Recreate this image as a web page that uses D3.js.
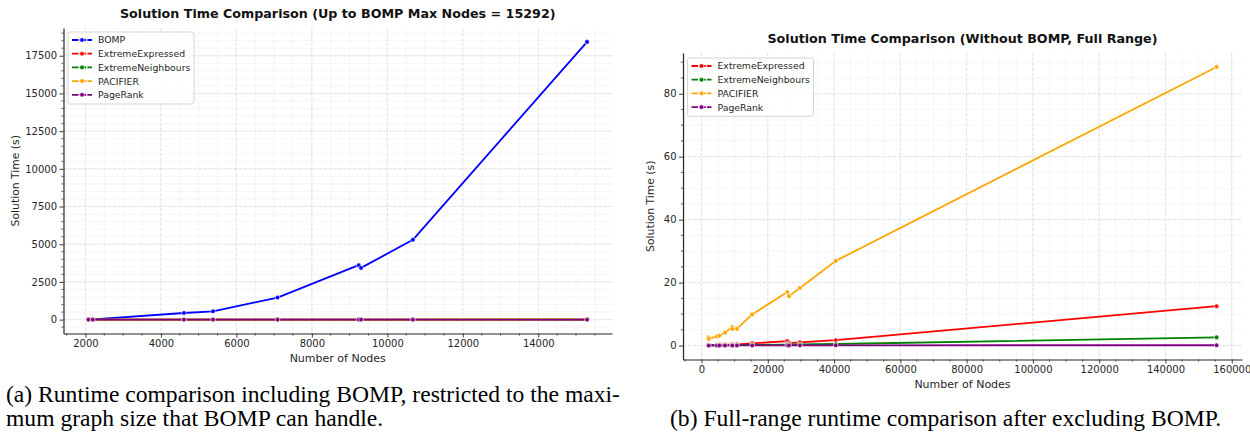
<!DOCTYPE html>
<html>
<head>
<meta charset="utf-8">
<script src="https://cdn.jsdelivr.net/npm/d3@7"></script>
<style>
  html, body { margin: 0; padding: 0; background: #fff; }
  svg { display: block; }
  .tick text { font-family: "DejaVu Sans", sans-serif; }
</style>
</head>
<body>
<svg id="fig" width="1250" height="435"></svg>
<script>
// Graph sizes (number of nodes) of the benchmark instances
const nodesBomp = [2080, 2194, 4611, 5381, 7090, 9241, 9303, 10676, 15292];
const nodesAll = [2080, 2194, 4611, 5381, 7090, 9241, 9303, 10676, 15292, 25900, 26400, 29700, 40500, 155422];

// Solution times in seconds
const bompTime = [8, 20, 439, 552, 1463, 3610, 3431, 5293, 18420];
const extremeExpressedTime = [0.2, 0.2, 0.2, 0.3, 0.3, 0.3, 0.4, 0.4, 0.7, 1.4, 0.8, 1.0, 1.7, 12.5];
const extremeNeighboursTime = [0.03, 0.03, 0.06, 0.07, 0.09, 0.12, 0.12, 0.14, 0.2, 0.3, 0.3, 0.35, 0.5, 2.6];
const pacifierTime = [2.6, 2.1, 2.9, 3.1, 4.1, 5.9, 5.3, 5.3, 9.9, 17.0, 15.7, 18.3, 26.9, 88.5];
const pageRankTime = [0.01, 0.01, 0.02, 0.02, 0.02, 0.03, 0.03, 0.03, 0.04, 0.06, 0.06, 0.07, 0.09, 0.1];

const methodNames = ["BOMP", "ExtremeExpressed", "ExtremeNeighbours", "PACIFIER", "PageRank"];
const methodColors = ["#0000ff", "#ff0000", "#008000", "#ffa500", "#800080"];

// Tick settings
const leftXTicks = [2000, 4000, 6000, 8000, 10000, 12000, 14000];
const leftYTicks = [0, 2500, 5000, 7500, 10000, 12500, 15000, 17500];
const rightXTicks = [0, 20000, 40000, 60000, 80000, 100000, 120000, 140000, 160000];
const rightYTicks = [0, 20, 40, 60, 80];

const titles = [
  "Solution Time Comparison (Up to BOMP Max Nodes = 15292)",
  "Solution Time Comparison (Without BOMP, Full Range)"
];
const captions = [
  ["(a) Runtime comparison including BOMP, restricted to the maxi-", "mum graph size that BOMP can handle."],
  ["(b) Full-range runtime comparison after excluding BOMP."]
];

const svg = d3.select("#fig");
const FONT = "'DejaVu Sans', sans-serif";
const TEXT = "#262626";

function pad(ext) {
  const r = ext[1] - ext[0];
  return [ext[0] - 0.05 * r, ext[1] + 0.05 * r];
}

function range(a, b, step) {
  const out = [];
  for (let v = Math.ceil(a / step) * step; v <= b + 1e-9; v += step) out.push(v);
  return out;
}

function drawPanel(opt) {
  const { box, series, xTicks, yTicks, xMinor, yMinor, title, legendBox } = opt;
  const g = svg.append("g");

  const allX = series.flatMap(s => s.x);
  const allY = series.flatMap(s => s.y);
  const x = d3.scaleLinear().domain(pad(d3.extent(allX))).range([box.left, box.right]);
  const y = d3.scaleLinear().domain(pad([Math.min(0, d3.min(allY)), d3.max(allY)])).range([box.bottom, box.top]);

  const xd = x.domain(), yd = y.domain();
  const xMinorVals = range(xd[0], xd[1], xMinor);
  const yMinorVals = range(yd[0], yd[1], yMinor);

  // minor grid
  const grid = g.append("g");
  grid.selectAll("line.mx").data(xMinorVals).join("line")
    .attr("x1", d => x(d)).attr("x2", d => x(d))
    .attr("y1", box.top).attr("y2", box.bottom)
    .attr("stroke", "#f0f0f0").attr("stroke-width", 0.6);
  grid.selectAll("line.my").data(yMinorVals).join("line")
    .attr("x1", box.left).attr("x2", box.right)
    .attr("y1", d => y(d)).attr("y2", d => y(d))
    .attr("stroke", "#f0f0f0").attr("stroke-width", 0.6);
  // major grid
  grid.selectAll("line.Mx").data(xTicks.filter(v => v >= xd[0] && v <= xd[1])).join("line")
    .attr("x1", d => x(d)).attr("x2", d => x(d))
    .attr("y1", box.top).attr("y2", box.bottom)
    .attr("stroke", "#dcdcdc").attr("stroke-width", 0.8).attr("stroke-dasharray", "3,2");
  grid.selectAll("line.My").data(yTicks.filter(v => v >= yd[0] && v <= yd[1])).join("line")
    .attr("x1", box.left).attr("x2", box.right)
    .attr("y1", d => y(d)).attr("y2", d => y(d))
    .attr("stroke", "#dcdcdc").attr("stroke-width", 0.8).attr("stroke-dasharray", "3,2");

  // series
  const line = d3.line().x(d => x(d[0])).y(d => y(d[1]));
  series.forEach(s => {
    const pts = s.x.map((v, i) => [v, s.y[i]]).sort((a, b) => a[0] - b[0]);
    const sg = g.append("g");
    sg.append("path").datum(pts).attr("d", line)
      .attr("fill", "none").attr("stroke", s.color).attr("stroke-width", 1.8)
      .attr("stroke-linejoin", "round").attr("stroke-linecap", "round");
    sg.selectAll("circle").data(pts).join("circle")
      .attr("cx", d => x(d[0])).attr("cy", d => y(d[1])).attr("r", 2.3)
      .attr("fill", s.color).attr("stroke", "#fff").attr("stroke-width", 0.6);
  });

  // axes
  const xAxis = g.append("g").attr("transform", `translate(0,${box.bottom})`)
    .call(d3.axisBottom(x).tickValues(xTicks.filter(v => v >= xd[0] && v <= xd[1]))
      .tickFormat(d3.format("d")).tickSizeInner(4).tickSizeOuter(0).tickPadding(2.5));
  const yAxis = g.append("g").attr("transform", `translate(${box.left},0)`)
    .call(d3.axisLeft(y).tickValues(yTicks.filter(v => v >= yd[0] && v <= yd[1]))
      .tickFormat(d3.format("d")).tickSizeInner(4).tickSizeOuter(0).tickPadding(2.5));
  [xAxis, yAxis].forEach(a => {
    a.select(".domain").attr("stroke", TEXT).attr("stroke-width", 1.2);
    a.selectAll(".tick line").attr("stroke", TEXT).attr("stroke-width", 0.9);
    a.selectAll(".tick text").attr("fill", TEXT).style("font-size", "10px").style("font-family", FONT);
  });
  // minor ticks
  g.append("g").selectAll("line").data(xMinorVals.filter(v => !xTicks.includes(v))).join("line")
    .attr("x1", d => x(d)).attr("x2", d => x(d))
    .attr("y1", box.bottom).attr("y2", box.bottom + 2.2)
    .attr("stroke", TEXT).attr("stroke-width", 0.7);
  g.append("g").selectAll("line").data(yMinorVals.filter(v => !yTicks.includes(v))).join("line")
    .attr("x1", box.left - 2.2).attr("x2", box.left)
    .attr("y1", d => y(d)).attr("y2", d => y(d))
    .attr("stroke", TEXT).attr("stroke-width", 0.7);

  // axis labels
  g.append("text").attr("x", (box.left + box.right) / 2).attr("y", box.bottom + 28.5)
    .attr("text-anchor", "middle").attr("font-family", FONT).attr("font-size", 11)
    .attr("fill", TEXT).text("Number of Nodes");
  g.append("text")
    .attr("transform", `translate(${box.left + opt.yLabelDx},${(box.top + box.bottom) / 2}) rotate(-90)`)
    .attr("text-anchor", "middle").attr("font-family", FONT).attr("font-size", 10.8)
    .attr("fill", TEXT).text("Solution Time (s)");

  // title
  g.append("text").attr("x", (box.left + box.right) / 2).attr("y", box.top - 10)
    .attr("text-anchor", "middle").attr("font-family", FONT).attr("font-size", 12.7)
    .attr("font-weight", "bold").attr("fill", "#111").text(title);

  // legend
  const lg = g.append("g").attr("transform", `translate(${legendBox.x},${legendBox.y})`);
  const rowH = 13.7;
  lg.append("rect").attr("x", 0).attr("y", 0)
    .attr("width", legendBox.w).attr("height", series.length * rowH + 3.5)
    .attr("rx", 2).attr("fill", "#fff").attr("fill-opacity", 0.85)
    .attr("stroke", "#d0d0d0").attr("stroke-width", 0.9);
  series.forEach((s, i) => {
    const cy = 8 + i * rowH;
    lg.append("line").attr("x1", 4).attr("x2", 24).attr("y1", cy).attr("y2", cy)
      .attr("stroke", s.color).attr("stroke-width", 1.8).attr("stroke-dasharray", "6.5,1.2");
    lg.append("circle").attr("cx", 14).attr("cy", cy).attr("r", 2.3)
      .attr("fill", s.color).attr("stroke", "#fff").attr("stroke-width", 0.6);
    lg.append("text").attr("x", 30).attr("y", cy + 3.4)
      .attr("font-family", FONT).attr("font-size", 9.3).attr("fill", TEXT).text(s.name);
  });
}

// Panel (a): all methods up to the largest graph BOMP solves
const nSmall = nodesBomp.length;
drawPanel({
  box: { left: 63.5, right: 612, top: 28, bottom: 333.5 },
  series: [
    { name: methodNames[0], color: methodColors[0], x: nodesBomp, y: bompTime },
    { name: methodNames[1], color: methodColors[1], x: nodesAll.slice(0, nSmall), y: extremeExpressedTime.slice(0, nSmall) },
    { name: methodNames[2], color: methodColors[2], x: nodesAll.slice(0, nSmall), y: extremeNeighboursTime.slice(0, nSmall) },
    { name: methodNames[3], color: methodColors[3], x: nodesAll.slice(0, nSmall), y: pacifierTime.slice(0, nSmall) },
    { name: methodNames[4], color: methodColors[4], x: nodesAll.slice(0, nSmall), y: pageRankTime.slice(0, nSmall) }
  ],
  xTicks: leftXTicks, yTicks: leftYTicks, xMinor: 500, yMinor: 500,
  title: titles[0], yLabelDx: -45,
  legendBox: { x: 68, y: 32, w: 126 }
});

// Panel (b): full range without BOMP
drawPanel({
  box: { left: 683, right: 1242, top: 53, bottom: 359.5 },
  series: [
    { name: methodNames[1], color: methodColors[1], x: nodesAll, y: extremeExpressedTime },
    { name: methodNames[2], color: methodColors[2], x: nodesAll, y: extremeNeighboursTime },
    { name: methodNames[3], color: methodColors[3], x: nodesAll, y: pacifierTime },
    { name: methodNames[4], color: methodColors[4], x: nodesAll, y: pageRankTime }
  ],
  xTicks: rightXTicks, yTicks: rightYTicks, xMinor: 5000, yMinor: 5,
  title: titles[1], yLabelDx: -29,
  legendBox: { x: 687.5, y: 58, w: 126 }
});

// Sub-figure captions (bottom-aligned: the single-line caption sits on the last line)
const cap = svg.append("g").attr("font-family", "'Liberation Serif', 'Times New Roman', serif")
  .attr("font-size", 23.6).attr("fill", "#000");
captions[0].forEach((t, i) => cap.append("text").attr("x", 6).attr("y", 402 + i * 24).text(t));
captions[1].forEach((t, i) => cap.append("text").attr("x", 670).attr("y", 426 + i * 24).text(t));
</script>
</body>
</html>
